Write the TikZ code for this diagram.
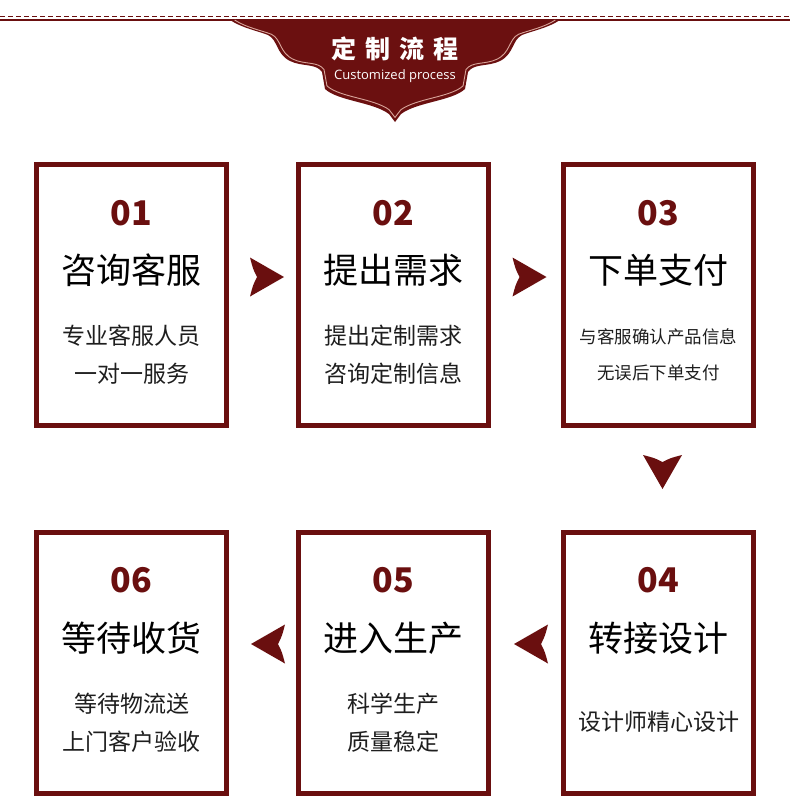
\documentclass[tikz,border=0pt]{standalone}
\usepackage{fontspec}
\setmainfont{Open Sans}
\newfontfamily\cjk{Noto Sans CJK SC}
\usetikzlibrary{calc}
\definecolor{maroon}{HTML}{6A0F0F}
\definecolor{bannerred}{HTML}{6B1010}
\definecolor{bannerline}{HTML}{D8A49A}
\definecolor{subgray}{HTML}{1E1E1E}
\tikzset{
  stepbox/.style={draw=maroon, line width=5pt, minimum width=190pt, minimum height=261pt, inner sep=0pt},
  numtxt/.style={font=\cjk\bfseries\fontsize{34}{36}\selectfont, text=maroon, inner sep=0pt},
  titletxt/.style={font=\cjk\fontsize{35}{38}\selectfont, text=black, inner sep=0pt},
  subtxt/.style={font=\cjk\fontsize{23}{26}\selectfont, text=subgray, inner sep=0pt},
  smalltxt/.style={font=\cjk\fontsize{17.5}{20}\selectfont, text=subgray, inner sep=0pt},
  chev/.pic={\fill[maroon] (17,0) -- (-17,-19.5) .. controls (-14,-8) .. (-10,0) .. controls (-14,8) .. (-17,19.5) -- cycle;}
}
\begin{document}
\begin{tikzpicture}[x=1pt,y=-1pt]
\useasboundingbox (0,0) rectangle (790,806);
\fill[white] (0,0) rectangle (790,806);
% top lines
\draw[maroon, line width=1pt, dash pattern=on 5pt off 3pt] (0,16.5) -- (790,16.5);
\draw[maroon, line width=1.6pt] (0,20.2) -- (790,20.2);
% banner
\def\bannerpath{(230,20) .. controls (242,28) and (258,31) .. (268,35)
  .. controls (278,40) and (276,54) .. (290,61)
  .. controls (302,67) and (316,63) .. (322,72)
  -- (325,89)
  .. controls (338,101) and (373,102) .. (389,114) -- (395,122)
  -- (401,114) .. controls (417,102) and (452,101) .. (465,89)
  -- (468,72) .. controls (474,63) and (488,67) .. (500,61)
  .. controls (514,54) and (512,40) .. (522,35)
  .. controls (532,31) and (548,28) .. (560,20)}
\fill[bannerred] \bannerpath -- cycle;
\begin{scope}[shift={(395,20)}, xscale=0.972, yscale=0.955, shift={(-395,-20)}]
\draw[bannerline, line width=0.9pt] \bannerpath;
\end{scope}
\node[font=\cjk\bfseries\fontsize{25}{28}\selectfont, text=white, inner sep=0pt] (htitle) at (395,49) {定\hspace{9pt}制\hspace{9pt}流\hspace{9pt}程};
\node[font=\fontsize{13}{15}\selectfont, text=white, inner sep=0pt] (hsub) at (395,76) {Customized process};
% boxes
\node[stepbox] (b1) at (131.5,294.5) {};
\node[stepbox] (b2) at (393.5,294.5) {};
\node[stepbox] (b3) at (658.5,294.5) {};
\node[stepbox] (b4) at (658.5,662.5) {};
\node[stepbox] (b5) at (393.5,662.5) {};
\node[stepbox] (b6) at (131.5,662.5) {};
% box 1
\node[numtxt] (n1) at ($(b1)+(0,-81)$) {01};
\node[titletxt] (t1) at ($(b1)+(0,-24.5)$) {咨询客服};
\node[subtxt] (s1a) at ($(b1)+(0,41.5)$) {专业客服人员};
\node[subtxt] (s1b) at ($(b1)+(0,79.5)$) {一对一服务};
% box 2
\node[numtxt] (n2) at ($(b2)+(0,-81)$) {02};
\node[titletxt] (t2) at ($(b2)+(0,-24.5)$) {提出需求};
\node[subtxt] (s2a) at ($(b2)+(0,41.5)$) {提出定制需求};
\node[subtxt] (s2b) at ($(b2)+(0,79.5)$) {咨询定制信息};
% box 3
\node[numtxt] (n3) at ($(b3)+(0,-81)$) {03};
\node[titletxt] (t3) at ($(b3)+(0,-24.5)$) {下单支付};
\node[smalltxt] (s3a) at ($(b3)+(0,42.5)$) {与客服确认产品信息};
\node[smalltxt] (s3b) at ($(b3)+(0,78.5)$) {无误后下单支付};
% box 4
\node[numtxt] (n4) at ($(b4)+(0,-82)$) {04};
\node[titletxt] (t4) at ($(b4)+(0,-24.5)$) {转接设计};
\node[subtxt] (s4a) at ($(b4)+(0,59.5)$) {设计师精心设计};
% box 5
\node[numtxt] (n5) at ($(b5)+(0,-82)$) {05};
\node[titletxt] (t5) at ($(b5)+(0,-24.5)$) {进入生产};
\node[subtxt] (s5a) at ($(b5)+(0,41.5)$) {科学生产};
\node[subtxt] (s5b) at ($(b5)+(0,79.5)$) {质量稳定};
% box 6
\node[numtxt] (n6) at ($(b6)+(0,-82)$) {06};
\node[titletxt] (t6) at ($(b6)+(0,-24.5)$) {等待收货};
\node[subtxt] (s6a) at ($(b6)+(0,41.5)$) {等待物流送};
\node[subtxt] (s6b) at ($(b6)+(0,79.5)$) {上门客户验收};
% arrows
\pic at (267,277) {chev};
\pic at (529.5,277) {chev};
\pic[rotate=-90] at (662.5,472) {chev};
\pic[rotate=180] at (531,644) {chev};
\pic[rotate=180] at (268,644) {chev};
\end{tikzpicture}
\end{document}
